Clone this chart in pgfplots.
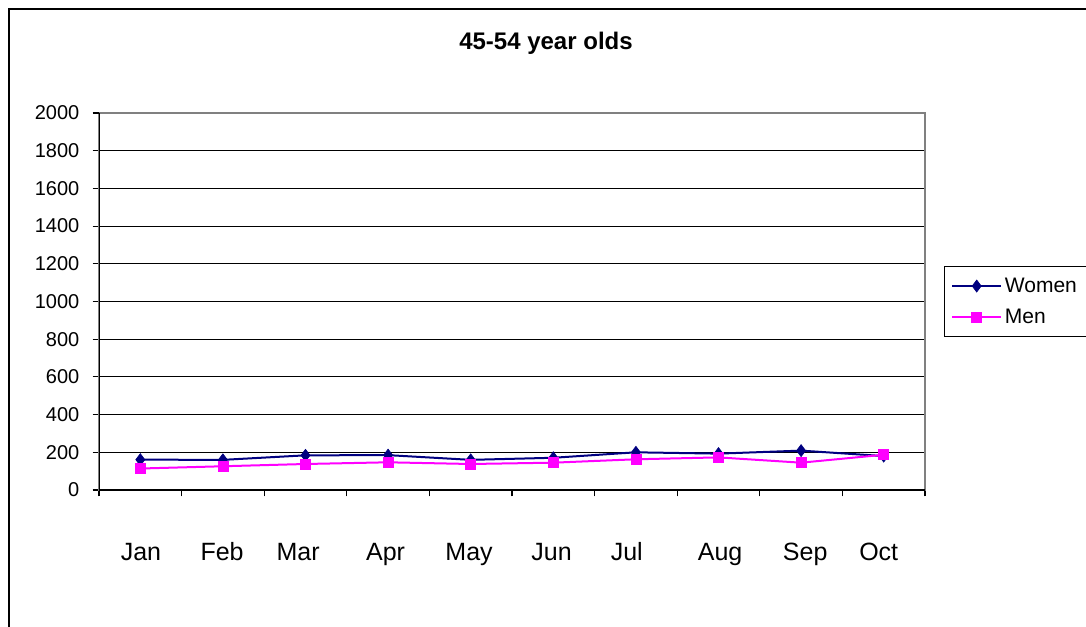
\documentclass[border=0pt]{standalone}
\usepackage{pgfplots}
\pgfplotsset{compat=1.18}
\usepackage{fontspec}
\setmainfont{Liberation Sans}
\definecolor{womencol}{HTML}{000080}
\definecolor{mencol}{HTML}{FF00FF}
\definecolor{bordergray}{HTML}{808080}
\begin{document}
\begin{tikzpicture}
\useasboundingbox (0,0) rectangle (814.5pt,-469.5pt);
\draw[line width=1pt,black] (6.75pt,-500pt) -- (6.75pt,-6.75pt) -- (830pt,-6.75pt);
\node[font=\fontsize{18pt}{20pt}\selectfont\bfseries] at (409.5pt,-32.25pt) {45-54 year olds};
\begin{axis}[
  at={(74.25pt,-367.5pt)}, anchor=south west,
  scale only axis, width=619.5pt, height=282.75pt,
  xmin=-0.5, xmax=9.5, ymin=0, ymax=2000,
  /pgf/number format/assume math mode=true,
  axis line style={draw=bordergray, line width=0.8pt},
  tick pos=left, tick align=outside,
  major tick length=4.8pt,
  every tick/.style={black, line width=0.8pt},
  ytick={0,200,...,1800},
  extra y ticks={2000},
  extra y tick style={grid=none},
  ymajorgrids,
  grid style={black, line width=0.7pt},
  yticklabel style={font=\fontsize{15pt}{17pt}\selectfont, inner sep=0pt, xshift=-9.75pt},
  y tick label style={/pgf/number format/1000 sep={}},
  xtick={-0.5,0.5,...,9.5},
  xticklabels={},
  extra x ticks={0.008,0.99,1.91,2.97,3.98,4.98,5.89,7.02,8.05,8.94},
  extra x tick labels={Jan,Feb,Mar,Apr,May,Jun,Jul,Aug,Sep,Oct},
  extra x tick style={major tick length=0pt, grid=none,
    tick label style={font=\fontsize{18.75pt}{20pt}\selectfont, anchor=base, inner sep=0pt, yshift=-52.75pt}},
  legend style={at={(rel axis cs:1.023,0.594)}, anchor=north west,
    draw=black, line width=0.8pt, font=\fontsize{15.75pt}{18pt}\selectfont,
    inner xsep=5pt, inner ysep=6.4pt, row sep=7pt,
    /tikz/every even column/.append style={column sep=3.5pt},
    cells={anchor=west, text width=70pt}},
  legend image code/.code={\draw[mark repeat=2,mark phase=2] plot coordinates {(0pt,0pt) (18.4pt,0pt) (36.8pt,0pt)};},
]
\addplot[color=womencol, line width=1.5pt, mark=diamond*, mark size=4.5pt, mark options={solid, line width=0.5pt}]
  coordinates {(0,161) (1,160) (2,184) (3,185) (4,160) (5,171) (6,200) (7,193) (8,209) (9,180)};
\addlegendentry{Women}
\addplot[color=mencol, line width=1.5pt, mark=square*, mark size=3.75pt, mark options={solid, line width=0.5pt}]
  coordinates {(0,114) (1,126) (2,138) (3,147) (4,138) (5,145) (6,163) (7,173) (8,145) (9,187)};
\addlegendentry{Men}
\draw[black, line width=0.8pt] (rel axis cs:0,1) -- (rel axis cs:0,0) -- (rel axis cs:1,0);
\end{axis}
\end{tikzpicture}
\end{document}
